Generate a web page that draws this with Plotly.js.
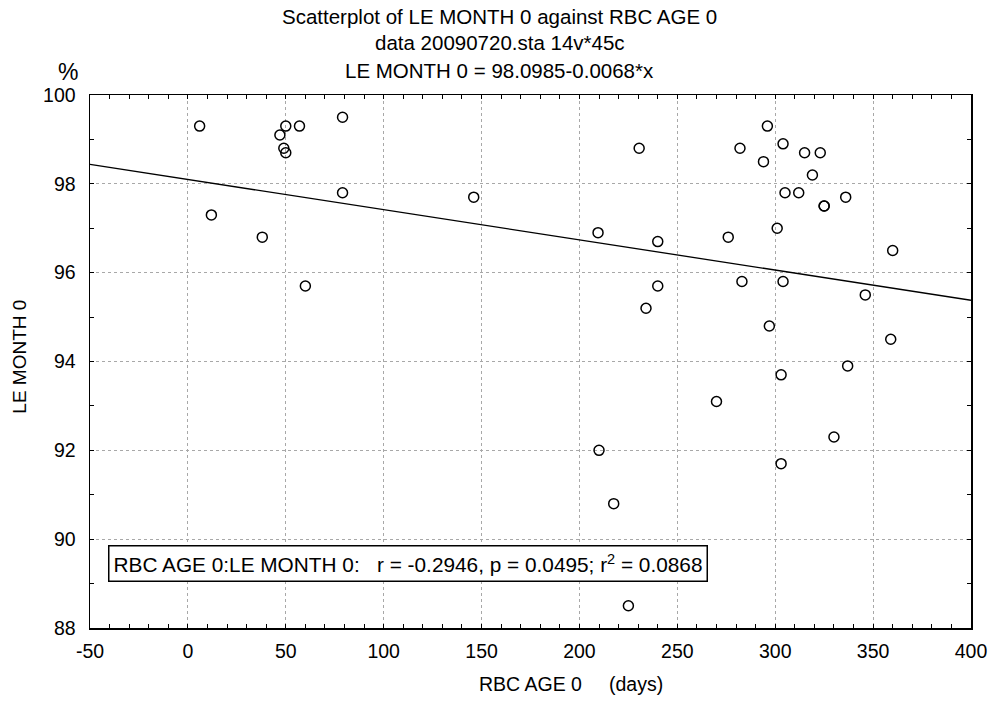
<!DOCTYPE html>
<html>
<head>
<meta charset="utf-8">
<script src="https://cdn.plot.ly/plotly-3.0.1.min.js"></script>
<style>html,body{margin:0;padding:0;background:#fff;}#chart{width:992px;height:701px;}</style>
</head>
<body>
<div id="chart"></div>
<script>
// RBC AGE 0 (days)
const rbcAge = [6, 12, 38, 47, 50, 49, 50, 57, 79, 79, 60, 146,
  209.5, 230.5, 240, 240, 234, 276, 282, 283, 294, 296, 297, 301, 303, 304, 304, 305, 312, 315, 319, 323, 325, 325, 336, 337, 346, 359, 360,
  210, 217.5, 225, 270, 303, 330];
// LE MONTH 0 (%)
const leMonth = [99.3, 97.3, 96.8, 99.1, 99.3, 98.8, 98.7, 99.3, 99.5, 97.8, 95.7, 97.7,
  96.9, 98.8, 96.7, 95.7, 95.2, 96.8, 98.8, 95.8, 98.5, 99.3, 94.8, 97.0, 93.7, 98.9, 95.8, 97.8, 97.8, 98.7, 98.2, 98.7, 97.5, 97.5, 97.7, 93.9, 95.5, 94.5, 96.5,
  92.0, 90.8, 88.5, 93.1, 91.7, 92.3];
// regression: LE MONTH 0 = 98.0985 - 0.0068*x
const intercept = 98.0985;
const slope = -0.0068;
const fitX = [-50, 400];
const fitY = fitX.map(x => intercept + slope * x);

const xTickVals = [-50, 0, 50, 100, 150, 200, 250, 300, 350, 400];
const xTickText = ['-50', '0', '50', '100', '150', '200', '250', '300', '350', '400'];
const yTickVals = [88, 90, 92, 94, 96, 98, 100];
const yTickText = ['88', '90', '92', '94', '96', '98', '100'];

const titleLines = ['Scatterplot of LE MONTH 0 against RBC AGE 0', 'data 20090720.sta 14v*45c', 'LE MONTH 0 = 98.0985-0.0068*x'];
const statText = 'RBC AGE 0:LE MONTH 0:   r = -0.2946, p = 0.0495; r<sup>2</sup> = 0.0868';

const F = "Liberation Sans, Arial, sans-serif";

const traces = [
  {
    x: rbcAge, y: leMonth, type: 'scatter', mode: 'markers',
    marker: {symbol: 'circle-open', size: 10, color: '#000', line: {width: 1.5, color: '#000'}},
    showlegend: false, cliponaxis: false
  },
  {
    x: fitX, y: fitY, type: 'scatter', mode: 'lines',
    line: {color: '#000', width: 1.3}, showlegend: false
  }
];

const axisCommon = {
  showline: true, linecolor: '#000', linewidth: 1.5, mirror: 'allticks',
  ticks: 'inside', ticklen: 4, tickwidth: 1, tickcolor: '#000',
  showgrid: true, gridcolor: '#a8a8a8', griddash: 'dot', gridwidth: 1,
  zeroline: false, tickmode: 'array',
  tickfont: {family: F, size: 19.5, color: '#000'}
};

// title line positions (paper coords over plot area 95..628 px)
const titleY = [1.148, 1.0976, 1.0469];
const annotations = titleLines.map((t, i) => ({
  text: t, xref: 'paper', yref: 'paper', x: 0.4653, y: titleY[i],
  xanchor: 'center', yanchor: 'middle', showarrow: false,
  font: {family: F, size: 20.5, color: '#000'}
}));
annotations.push(
  {
    text: statText, xref: 'paper', yref: 'paper', x: 0.0204, y: 0.1212,
    xanchor: 'left', yanchor: 'middle', showarrow: false,
    font: {family: F, size: 20.8, color: '#000'},
    bordercolor: '#000', borderwidth: 1.5, borderpad: 4, bgcolor: '#fff'
  },
  {
    text: '%', xref: 'paper', yref: 'paper', x: -0.0249, y: 1.044,
    xanchor: 'center', yanchor: 'middle', showarrow: false,
    font: {family: F, size: 23, color: '#000'}
  },
  {
    text: 'RBC AGE 0', xref: 'paper', yref: 'paper', x: 0.5, y: -0.105,
    xanchor: 'center', yanchor: 'middle', showarrow: false,
    font: {family: F, size: 19.5, color: '#000'}
  },
  {
    text: '(days)', xref: 'paper', yref: 'paper', x: 0.5868, y: -0.105,
    xanchor: 'left', yanchor: 'middle', showarrow: false,
    font: {family: F, size: 19.5, color: '#000'}
  },
  {
    text: 'LE MONTH 0', xref: 'paper', yref: 'paper', x: -0.0795, y: 0.509,
    xanchor: 'center', yanchor: 'middle', showarrow: false, textangle: -90,
    font: {family: F, size: 19, color: '#000'}
  }
);

const layout = {
  width: 992, height: 701,
  margin: {l: 90, r: 21, t: 95, b: 73},
  paper_bgcolor: '#fff', plot_bgcolor: '#fff',
  xaxis: Object.assign({}, axisCommon, {
    range: [-50, 400], tickvals: xTickVals, ticktext: xTickText,
    minor: {dtick: 10, tick0: 0, ticks: 'inside', ticklen: 4, tickcolor: '#000', showgrid: false},
    ticklabelstandoff: 5
  }),
  yaxis: Object.assign({}, axisCommon, {
    range: [88, 100], tickvals: yTickVals, ticktext: yTickText,
    minor: {dtick: 1, tick0: 88, ticks: 'inside', ticklen: 4, tickcolor: '#000', showgrid: false},
    ticklabelstandoff: 9
  }),
  annotations: annotations
};

Plotly.newPlot('chart', traces, layout, {displayModeBar: false, staticPlot: true});
</script>
</body>
</html>
